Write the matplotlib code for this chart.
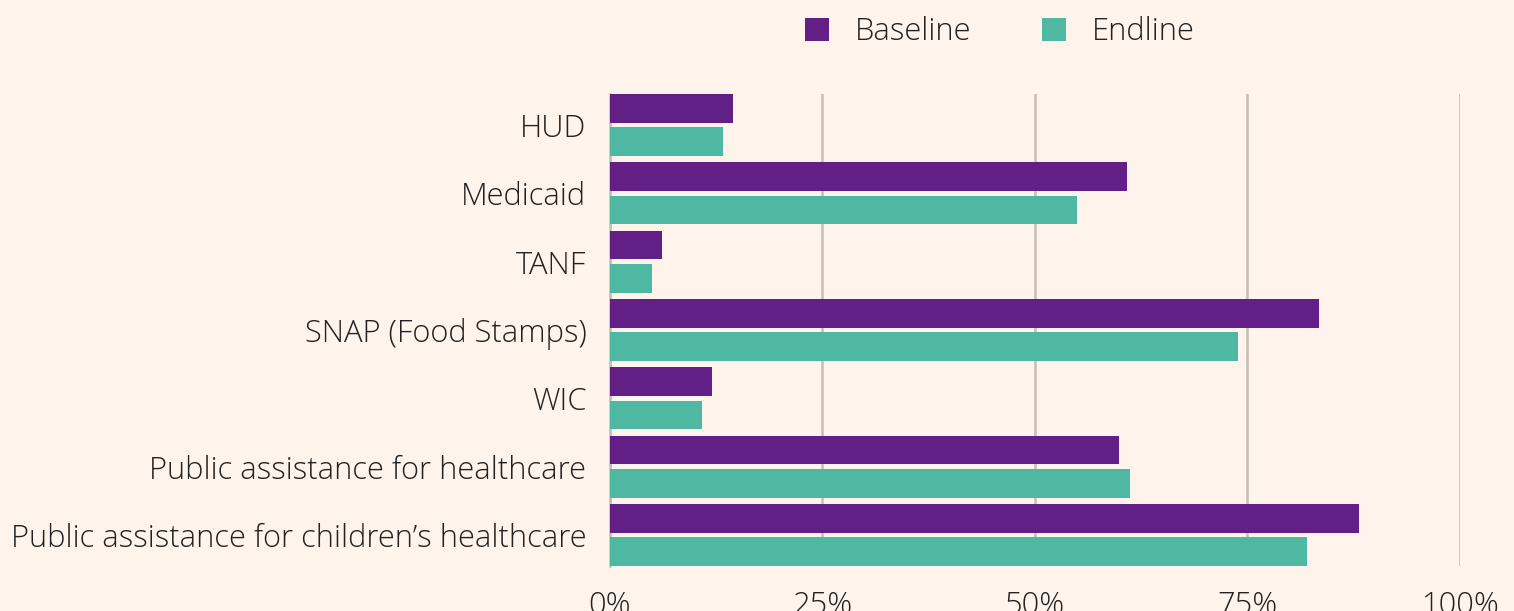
import matplotlib.pyplot as plt
import numpy as np
from matplotlib.patches import Patch
from matplotlib.ticker import PercentFormatter

plt.rcParams['font.family'] = ['Open Sans', 'DejaVu Sans']
plt.rcParams['font.weight'] = 'light'

categories = ["HUD", "Medicaid", "TANF", "SNAP (Food Stamps)", "WIC",
              "Public assistance for healthcare",
              "Public assistance for children\u2019s healthcare"]
baseline = [14.5, 60.8, 6.1, 83.4, 12.0, 59.9, 88.1]
endline = [13.3, 54.9, 4.9, 73.9, 10.8, 61.2, 82.0]
xticks = [0, 25, 50, 75, 100]

bg = '#FFF4EB'
purple = '#621F86'
teal = '#4FB8A2'
gridc = '#C6BDB5'

fig = plt.figure(figsize=(15.14, 6.11), dpi=100, facecolor=bg)
ax = fig.add_axes([0.4029, 0.0737, 0.5614, 0.7725])
ax.set_facecolor(bg)

y = np.arange(len(categories))
off = 0.244
h = 0.42
ax.barh(y - off, baseline, height=h, color=purple, zorder=3)
ax.barh(y + off, endline, height=h, color=teal, zorder=3)

ax.set_ylim(len(categories) - 1 + 0.455, -0.455)
ax.set_xlim(0, 100)
ax.set_yticks(y)
ax.set_yticklabels(categories, fontsize=22.2, color='#222222')
ax.set_xticks(xticks)
ax.xaxis.set_major_formatter(PercentFormatter(decimals=0))
ax.tick_params(axis='x', labelsize=22.2, colors='#222222', length=0, pad=17)
ax.tick_params(axis='y', length=0, pad=17)
for lab in ax.get_xticklabels() + ax.get_yticklabels():
    lab.set_fontweight('light')

ax.grid(axis='x', color=gridc, linewidth=1.8, zorder=0)
for s in ['top', 'right', 'bottom']:
    ax.spines[s].set_visible(False)
ax.spines['left'].set_color(gridc)
ax.spines['left'].set_linewidth(1.8)

handles = [Patch(facecolor=purple, label='Baseline'),
           Patch(facecolor=teal, label='Endline')]
leg = fig.legend(handles=handles, loc='center', bbox_to_anchor=(0.6605, 0.947),
                 ncol=2, frameon=False, fontsize=22.2, handlelength=0.78,
                 handleheight=0.78, handletextpad=0.85, columnspacing=2.27)
for t in leg.get_texts():
    t.set_color('#222222')
    t.set_fontweight('light')

fig.savefig('out.png', dpi=100, facecolor=bg)
